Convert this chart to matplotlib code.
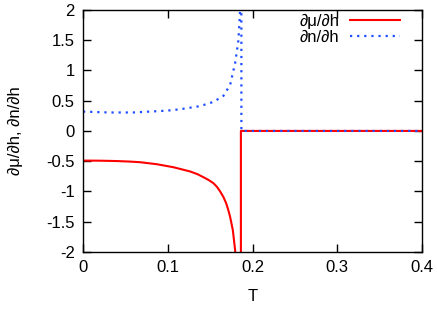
import matplotlib
matplotlib.use("Agg")
import matplotlib.pyplot as plt
from matplotlib.ticker import FuncFormatter, MultipleLocator

# dmu/dh: diverges to -inf just below Tc, then jumps to 0
t_mu = [0.0, 0.02, 0.04, 0.0555, 0.0673, 0.0869, 0.1066, 0.1263, 0.135, 0.142, 0.148,
        0.1539, 0.158, 0.1617, 0.1655, 0.1688, 0.1712, 0.1735, 0.1767, 0.1794, 0.181,
        0.1862, 0.1862, 0.4]
dmu = [-0.49, -0.492, -0.498, -0.507, -0.517, -0.55, -0.60, -0.67, -0.715, -0.765, -0.81,
       -0.865, -0.925, -1.00, -1.09, -1.195, -1.30, -1.42, -1.64, -1.97, -2.3,
       -2.5, 0.0, 0.0]

# dn/dh: diverges to +inf just below Tc, then jumps to 0
t_n = [0.0, 0.03, 0.059, 0.0987, 0.1145, 0.138, 0.1538, 0.1656, 0.1735, 0.1794,
       0.1833, 0.1853, 0.186, 0.1868, 0.1868, 0.4]
dn = [0.32, 0.305, 0.305, 0.335, 0.358, 0.41, 0.48, 0.58, 0.76, 1.12,
      1.50, 2.0, 2.5, 2.5, 0.0, 0.0]

plt.rcParams['font.family'] = ['Liberation Sans', 'DejaVu Sans']

fig = plt.figure(figsize=(4.37, 3.11), dpi=100)
ax = fig.add_axes([0.19, 0.19, 0.776, 0.778])

ax.plot(t_mu, dmu, color='#ff0000', lw=1.5, label='∂μ/∂h')
ax.plot(t_n, dn, color='#1f4fff', lw=1.6, linestyle=(0, (1, 2.2)), label='∂n/∂h')

ax.set_xlim(0, 0.4)
ax.set_ylim(-2, 2)
ax.xaxis.set_major_locator(MultipleLocator(0.1))
ax.yaxis.set_major_locator(MultipleLocator(0.5))
fmt = FuncFormatter(lambda v, p: ('%g' % round(v, 3)).replace('−', '-'))
ax.xaxis.set_major_formatter(fmt)
ax.yaxis.set_major_formatter(fmt)
ax.tick_params(direction='in', top=True, right=True, length=6, width=1, labelsize=12, pad=6)
for s in ax.spines.values():
    s.set_linewidth(1)

ax.set_xlabel('T', fontsize=12, labelpad=10)
ax.set_ylabel('∂μ/∂h, ∂n/∂h', fontsize=12, labelpad=17)

ax.legend(loc='upper right', bbox_to_anchor=(400 / 437, 1 - 14 / 311),
          bbox_transform=fig.transFigure, markerfirst=False, frameon=False, fontsize=12,
          handlelength=3.0, handletextpad=0.65, labelspacing=0.05,
          borderaxespad=0, borderpad=0)

fig.savefig('out.png', dpi=100)
